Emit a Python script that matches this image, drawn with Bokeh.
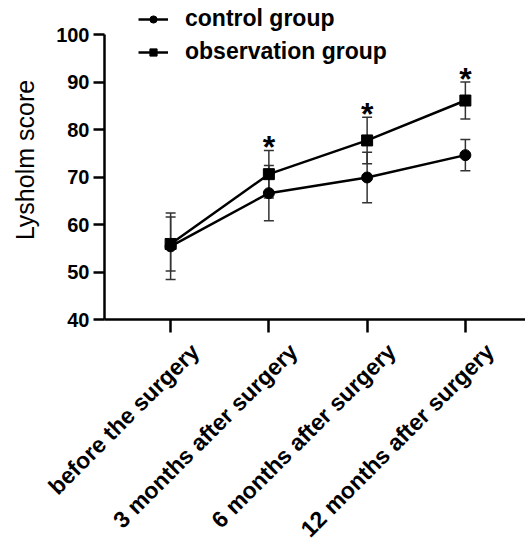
import math
from bokeh.plotting import figure
from bokeh.models import (Range1d, FixedTicker, Whisker, TeeHead, ColumnDataSource,
                          Legend, LegendItem, LinearAxis)
from bokeh.core.properties import value
from bokeh.embed import file_html
from bokeh.resources import INLINE

# ---- data ----
timepoints = ["before the surgery", "3 months after surgery",
              "6 months after surgery", "12 months after surgery"]
control_mean = [55.4, 66.6, 69.9, 74.6]
control_sd = [7.0, 5.8, 5.3, 3.3]
obs_mean = [55.9, 70.6, 77.7, 86.1]
obs_sd = [5.7, 5.0, 4.9, 3.9]
significant = [False, True, True, True]
y_ticks = [40, 50, 60, 70, 80, 90, 100]

FONT = "Liberation Sans"
xs = list(range(len(timepoints)))

ctrl_src = ColumnDataSource(dict(
    x=xs, y=control_mean,
    upper=[m + s for m, s in zip(control_mean, control_sd)],
    lower=[m - s for m, s in zip(control_mean, control_sd)]))
obs_src = ColumnDataSource(dict(
    x=xs, y=obs_mean,
    upper=[m + s for m, s in zip(obs_mean, obs_sd)],
    lower=[m - s for m, s in zip(obs_mean, obs_sd)]))
star_src = ColumnDataSource(dict(
    x=[x for x, s in zip(xs, significant) if s],
    y=[m + s for m, s, sig in zip(obs_mean, obs_sd, significant) if sig],
    t=["*" for s in significant if s]))

X0, X1 = -0.673, 3.612
LABEL_SHIFT = 0.25  # label anchor shift to the right, in category units
Y0, Y1 = 40, 100
Y_TOP = Y1 + 34 / 4.75  # headroom above the axis for the legend

p = figure(frame_width=421, frame_height=319,
           x_range=Range1d(X0, X1), y_range=Range1d(Y0, Y_TOP),
           output_backend="svg", toolbar_location=None,
           min_border_left=104, min_border_right=0,
           min_border_top=0, min_border_bottom=200)
p.extra_x_ranges = {"labels": Range1d(X0 - LABEL_SHIFT, X1 - LABEL_SHIFT)}
p.outline_line_color = None
p.xgrid.visible = False
p.ygrid.visible = False
p.background_fill_color = "white"
p.border_fill_color = "white"

# error bars
for src in (ctrl_src, obs_src):
    w = Whisker(base="x", upper="upper", lower="lower", source=src,
                line_color="#333333", line_width=1.5,
                upper_head=TeeHead(size=10, line_color="#333333", line_width=1.5),
                lower_head=TeeHead(size=10, line_color="#333333", line_width=1.5))
    p.add_layout(w)

l1 = p.line("x", "y", source=ctrl_src, line_color="black", line_width=2.5)
s1 = p.scatter("x", "y", source=ctrl_src, marker="circle", size=11,
               fill_color="black", line_color="black")
l2 = p.line("x", "y", source=obs_src, line_color="black", line_width=2.5)
s2 = p.scatter("x", "y", source=obs_src, marker="square", size=11,
               fill_color="black", line_color="black")

p.text("x", "y", text="t", source=star_src, text_font=value(FONT),
       text_font_style="bold", text_font_size="32px", text_align="center",
       text_baseline="middle", y_offset=-3, text_color="black")

# axes
p.xaxis.ticker = FixedTicker(ticks=xs)
p.xaxis.major_tick_out = 13
p.xaxis.major_label_standoff = 0
p.xaxis.major_label_text_font_size = "0px"
p.xaxis.major_label_overrides = {i: "" for i in xs}

lab_axis = LinearAxis(x_range_name="labels", ticker=FixedTicker(ticks=xs),
                      major_label_overrides={i: t for i, t in zip(xs, timepoints)},
                      major_label_orientation=math.pi / 4,
                      axis_line_color=None, major_tick_line_color=None,
                      minor_tick_line_color=None, major_tick_out=0, major_tick_in=0,
                      major_label_standoff=15,
                      major_label_text_font=FONT, major_label_text_font_style="bold",
                      major_label_text_font_size="23px", major_label_text_color="black")
p.add_layout(lab_axis, "below")

p.yaxis.ticker = FixedTicker(ticks=y_ticks)
p.yaxis.bounds = (Y0, Y1)
p.yaxis.major_tick_out = 11
p.yaxis.major_label_standoff = 4
p.yaxis.axis_label = "Lysholm score"
p.yaxis.axis_label_standoff = 14
p.yaxis.axis_label_text_font = FONT
p.yaxis.axis_label_text_font_style = "normal"
p.yaxis.axis_label_text_font_size = "25px"
p.yaxis.axis_label_text_color = "black"
for ax in (p.xaxis[0], p.yaxis[0]):
    ax.axis_line_width = 2.5
    ax.axis_line_color = "black"
    ax.major_tick_line_width = 2.5
    ax.major_tick_line_color = "black"
    ax.major_tick_in = 0
    ax.minor_tick_line_color = None
    ax.major_label_text_font = FONT
    ax.major_label_text_font_style = "bold"
    ax.major_label_text_color = "black"
p.yaxis.major_label_text_font_size = "20px"

legend = Legend(items=[LegendItem(label="control group", renderers=[l1, s1]),
                       LegendItem(label="observation group", renderers=[l2, s2])],
                location=(34, 254), glyph_width=30, glyph_height=18, spacing=6,
                label_standoff=17, padding=0, margin=0,
                border_line_alpha=0, background_fill_alpha=0,
                label_text_font=FONT, label_text_font_style="bold",
                label_text_font_size="23px", label_text_color="black")
p.add_layout(legend)

open("out.html", "w").write(file_html(p, INLINE))
